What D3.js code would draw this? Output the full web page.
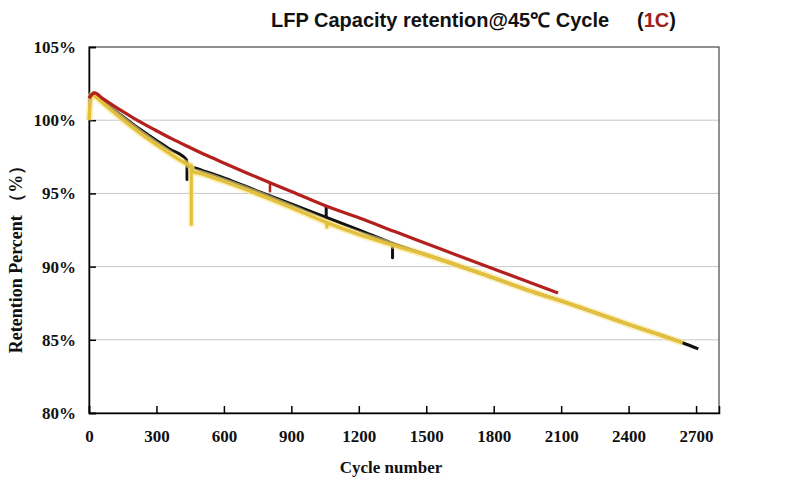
<!DOCTYPE html>
<html>
<head>
<meta charset="utf-8">
<script src="https://cdn.jsdelivr.net/npm/d3@7/dist/d3.min.js"></script>
<style>
  body { margin: 0; background: #fff; }
  svg { display: block; }
</style>
</head>
<body>
<svg id="chart" width="800" height="500"></svg>
<script>
// ---- Data ----
const titleMain = "LFP Capacity retention@45\u2103 Cycle";
const titleRate = "1C";
const xLabel = "Cycle number";
const yLabel = "Retention Percent \uFF08%\uFF09";

const xTicks = [0, 300, 600, 900, 1200, 1500, 1800, 2100, 2400, 2700];
const yTicks = [80, 85, 90, 95, 100, 105];
const yGrid = [85, 90, 95, 100];

// black series
const blackCycles = [0, 20, 60, 100, 144, 188, 240, 292, 360, 433, 438, 455, 520, 589, 693, 800, 920, 1050, 1200, 1345, 1550, 1750, 1950, 2120, 2400, 2640, 2710];
const blackValues = [101.5, 101.85, 101.35, 100.85, 100.32, 99.81, 99.24, 98.69, 98.01, 97.3, 96.85, 96.8, 96.48, 96.12, 95.5, 94.85, 94.15, 93.38, 92.5, 91.62, 90.55, 89.5, 88.4, 87.55, 86.05, 84.8, 84.38];
const blackSpikeCycles = [436, 1055, 1350];
const blackSpikeFrom = [97.0, 93.35, 91.6];
const blackSpikeTo = [95.95, 94.05, 90.6];

// yellow series
const yellowCycles = [0, 8, 15, 30, 60, 100, 144, 188, 240, 292, 360, 433, 450, 460, 485, 589, 693, 800, 920, 1050, 1200, 1345, 1550, 1750, 1950, 2120, 2400, 2640];
const yellowValues = [100.0, 101.5, 101.75, 101.6, 101.2, 100.68, 100.12, 99.58, 98.98, 98.42, 97.72, 97.02, 96.9, 96.5, 96.4, 95.88, 95.3, 94.65, 93.9, 93.05, 92.2, 91.5, 90.55, 89.5, 88.4, 87.55, 86.05, 84.8];
const yellowSpikeCycles = [455, 1058];
const yellowSpikeFrom = [96.9, 93.0];
const yellowSpikeTo = [92.9, 92.7];

// red series
const redCycles = [0, 25, 60, 100, 144, 200, 292, 370, 440, 520, 589, 707, 800, 900, 1060, 1200, 1360, 1550, 1750, 1920, 2086];
const redValues = [101.5, 101.86, 101.49, 101.08, 100.65, 100.13, 99.35, 98.72, 98.2, 97.62, 97.15, 96.36, 95.76, 95.13, 94.1, 93.33, 92.39, 91.29, 90.12, 89.16, 88.2];
const redSpikeCycles = [805];
const redSpikeFrom = [95.7];
const redSpikeTo = [95.15];

// ---- Layout ----
const svg = d3.select("#chart");
const mLeft = 89, mRight = 719, mTop = 47, mBottom = 413;
const x = d3.scaleLinear().domain([0, 2802]).range([mLeft, mRight]);
const y = d3.scaleLinear().domain([80, 105]).range([mBottom, mTop]);

const serif = "'Liberation Serif', 'Times New Roman', serif";
const sans = "'Liberation Sans', Arial, sans-serif";

// gridlines
svg.append("g").selectAll("line").data(yGrid).join("line")
  .attr("x1", mLeft).attr("x2", mRight)
  .attr("y1", d => y(d)).attr("y2", d => y(d))
  .attr("stroke", "#c8c8c8").attr("stroke-width", 1);

// frame
svg.append("rect").attr("x", mLeft).attr("y", mTop)
  .attr("width", mRight - mLeft).attr("height", mBottom - mTop)
  .attr("fill", "none").attr("stroke", "#222").attr("stroke-width", 1);

// axes
const yAxis = d3.axisLeft(y).tickValues(yTicks).tickSize(-7).tickPadding(13)
  .tickFormat(d => d + "%");
const gy = svg.append("g").attr("transform", `translate(${mLeft},0)`).call(yAxis);
gy.select(".domain").attr("stroke", "#000").attr("stroke-width", 1.5);
gy.selectAll(".tick line").attr("stroke", "#000").attr("stroke-width", 1.5);
gy.selectAll(".tick text").attr("font-family", serif).attr("font-weight", "bold")
  .attr("font-size", 17).attr("fill", "#111");

const xAxis = d3.axisBottom(x).tickValues(xTicks).tickSize(-7).tickPadding(17)
  .tickFormat(d3.format("d"));
const gx = svg.append("g").attr("transform", `translate(0,${mBottom})`).call(xAxis);
gx.select(".domain").attr("stroke", "#000").attr("stroke-width", 1.5);
gx.selectAll(".tick line").attr("stroke", "#000").attr("stroke-width", 1.5);
gx.selectAll(".tick text").attr("font-family", serif).attr("font-weight", "bold")
  .attr("font-size", 17).attr("fill", "#111");

// series
const line = d3.line().x(d => x(d[0])).y(d => y(d[1])).curve(d3.curveMonotoneX);
const zip = (a, b) => a.map((c, i) => [c, b[i]]);
const spikes = (cs, f, t) => cs.map((c, i) => ({ c, f: f[i], t: t[i] }));

const plot = svg.append("g");
function drawSpikes(data, color, width) {
  plot.append("g").selectAll("line").data(data).join("line")
    .attr("x1", d => x(d.c)).attr("x2", d => x(d.c))
    .attr("y1", d => y(d.f)).attr("y2", d => y(d.t))
    .attr("stroke", color).attr("stroke-width", width).attr("stroke-linecap", "round");
}

// black
plot.append("path").datum(zip(blackCycles, blackValues))
  .attr("d", line).attr("fill", "none").attr("stroke", "#111")
  .attr("stroke-width", 3.2).attr("stroke-linejoin", "round");
drawSpikes(spikes(blackSpikeCycles, blackSpikeFrom, blackSpikeTo), "#111", 3);

// yellow (with soft glow)
const yData = zip(yellowCycles, yellowValues);
const ySp = spikes(yellowSpikeCycles, yellowSpikeFrom, yellowSpikeTo);
plot.append("path").datum(yData)
  .attr("d", line).attr("fill", "none").attr("stroke", "#f6e58a")
  .attr("stroke-opacity", 0.6).attr("stroke-width", 7).attr("stroke-linejoin", "round");
drawSpikes(ySp, "rgba(246,229,138,0.6)", 6);
plot.append("path").datum(yData)
  .attr("d", line).attr("fill", "none").attr("stroke", "#e3bf3c")
  .attr("stroke-width", 3.4).attr("stroke-linejoin", "round");
drawSpikes(ySp, "#e3bf3c", 3);

// red
plot.append("path").datum(zip(redCycles, redValues))
  .attr("d", line).attr("fill", "none").attr("stroke", "#b3211e")
  .attr("stroke-width", 3.2).attr("stroke-linejoin", "round");
drawSpikes(spikes(redSpikeCycles, redSpikeFrom, redSpikeTo), "#b3211e", 2.5);

// titles
const t = svg.append("text").attr("y", 27).attr("font-family", sans)
  .attr("font-weight", "bold").attr("font-size", 20).attr("fill", "#111");
t.append("tspan").attr("x", 271).text(titleMain);
t.append("tspan").attr("x", 637).text("(");
t.append("tspan").attr("fill", "#9e1f1c").text(titleRate);
t.append("tspan").text(")");

svg.append("text").attr("x", 391).attr("y", 473).attr("text-anchor", "middle")
  .attr("font-family", serif).attr("font-weight", "bold").attr("font-size", 17)
  .attr("fill", "#111").text(xLabel);

svg.append("text").attr("transform", "translate(22,255) rotate(-90)")
  .attr("text-anchor", "middle")
  .attr("font-family", serif).attr("font-weight", "bold").attr("font-size", 18)
  .attr("fill", "#111").text(yLabel);
</script>
</body>
</html>
